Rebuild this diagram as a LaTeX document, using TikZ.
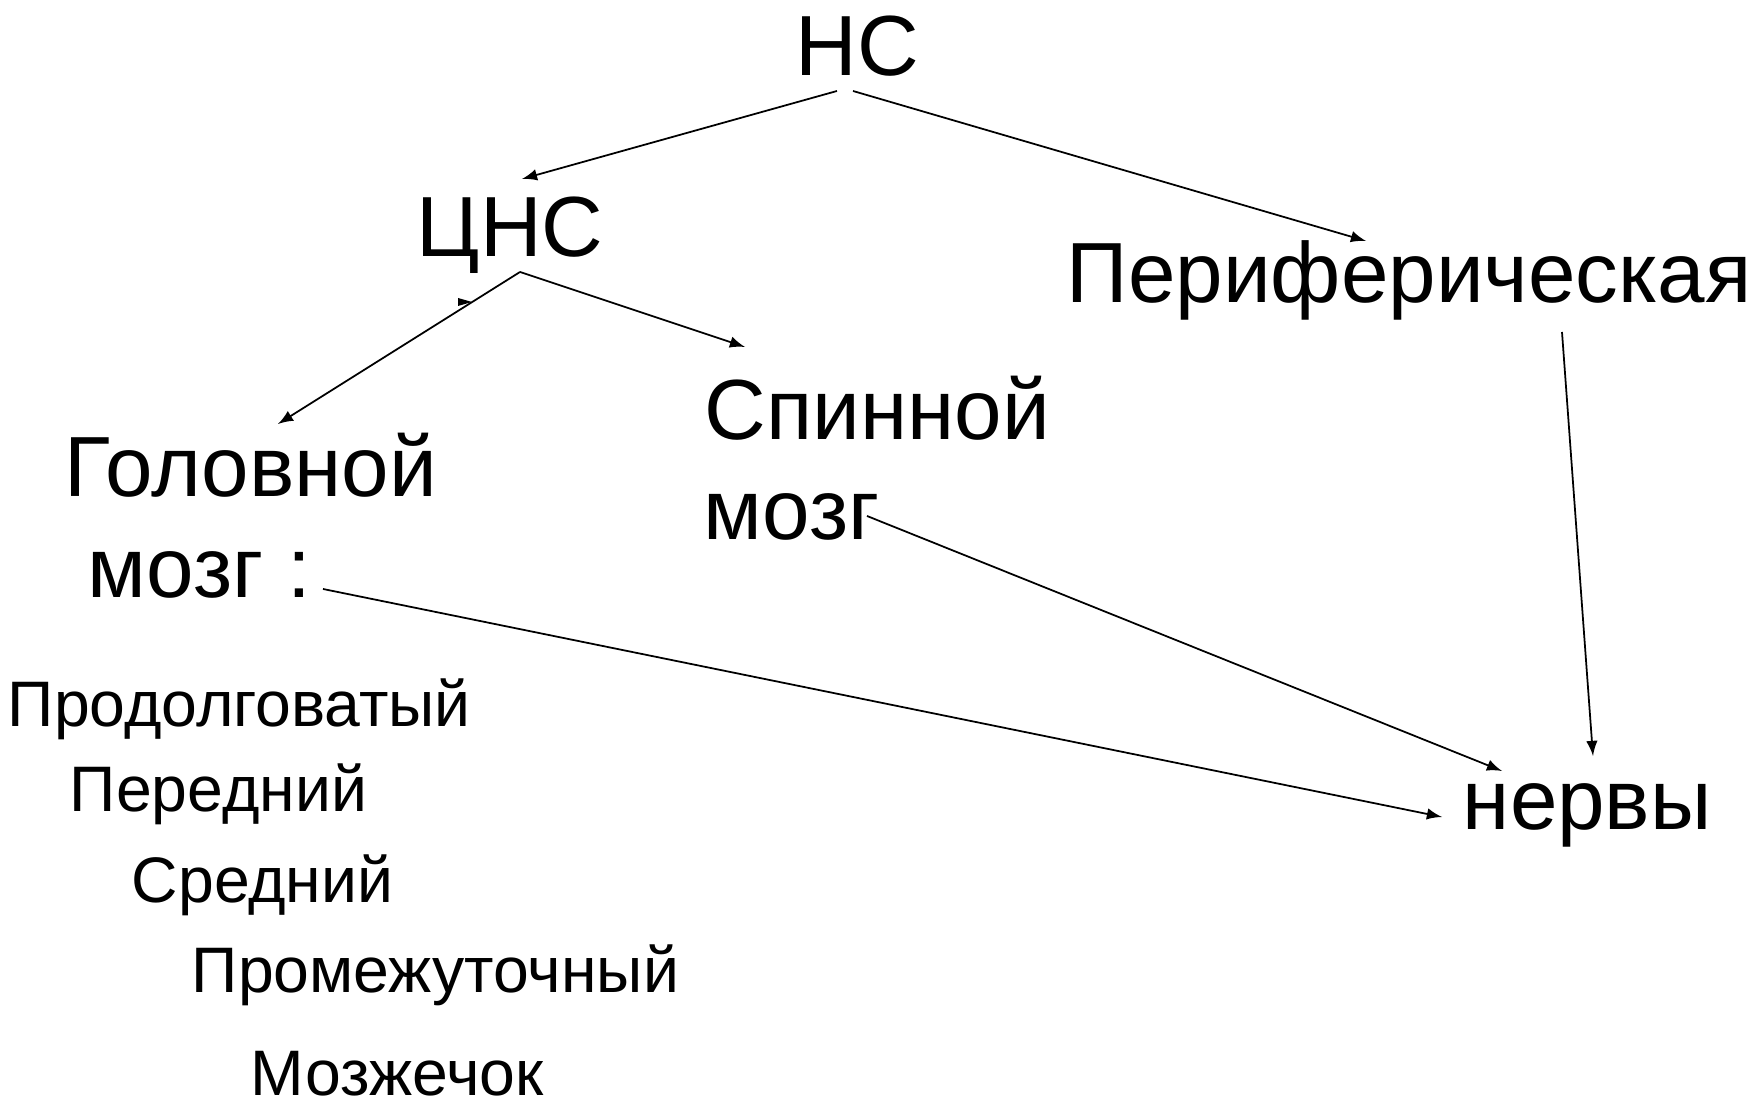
\documentclass[tikz,border=0pt]{standalone}
\usepackage{fontspec}
\setmainfont{Liberation Sans}
\usetikzlibrary{positioning,calc}
\tikzset{
    big/.style={anchor=base west, inner sep=0pt, font=\fontsize{24.3}{29}\selectfont},
    small/.style={anchor=base west, inner sep=0pt, font=\fontsize{18.3}{21}\selectfont},
}

\begin{document}
\begin{tikzpicture}[x=0.1mm, y=-0.1mm, line width=0.5pt]
  \useasboundingbox (0,0) rectangle (1758,1103);

  \node [big] (ns) at (795,76) {НС};
  \node [big] (cns) at (416,257) {ЦНС};
  \node [big] (periph) at (1066,303) {Периферическая};
  \node [big] (spinnoy) at (704,440) {Спинной};
  \node [big] (spinnoymozg) at (703,540) {мозг};
  \node [big] (golovnoy) at (64,497) {Головной};
  \node [big] (golovnoymozg) at (87,598) {мозг :};
  \node [big] (nervy) at (1462,830) {нервы};

  % отделы головного мозга
  \node [small] (prodolg) at (7,727) {Продолговатый};
  \node [small] (peredniy) at (69,812) {Передний};
  \node [small] (sredniy) at (131,903) {Средний};
  \node [small] (promezh) at (191,993) {Промежуточный};
  \node [small, text depth=0pt] (mozzhechok) at (250,1096) {Мозжечок};

  % СТРЕЛКИ
  \draw[-latex] ([shift={(42,15)}]ns.base west) -- ([shift={(106,-78)}]cns.base west);
  \draw[-latex] ([shift={(58,15)}]ns.base west) -- ([shift={(300,-62)}]periph.base west);
  \draw[-latex] ([shift={(104,15)}]cns.base west) -- ([shift={(214,-73)}]golovnoy.base west);
  \draw[-latex] ([shift={(104,15)}]cns.base west) -- ([shift={(41,-93)}]spinnoy.base west);
  \draw[-latex] ([shift={(496,29)}]periph.base west) -- ([shift={(131,-74)}]nervy.base west);
  \draw[-latex] ([shift={(164,-24)}]spinnoymozg.base west) -- ([shift={(40,-59)}]nervy.base west);
  \draw[-latex] ([shift={(236,-9)}]golovnoymozg.base west) -- ([shift={(-20,-13)}]nervy.base west);
  \fill ([shift={(42,41)}]cns.base west) -- ++(14,4) -- ++(-14,4) -- cycle;
\end{tikzpicture}
\end{document}
